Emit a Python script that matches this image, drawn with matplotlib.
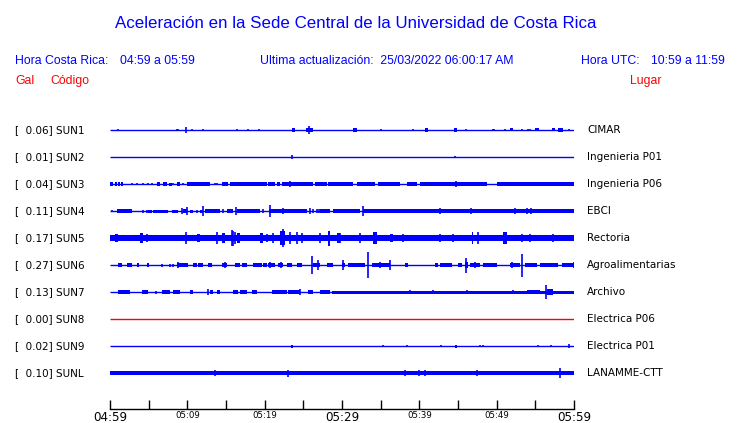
import matplotlib
matplotlib.use("Agg")
from matplotlib import pyplot as plt
from matplotlib import transforms

BLUE = "#0000ff"
RED = "#ff0000"

stations = ["SUN1", "SUN2", "SUN3", "SUN4", "SUN5", "SUN6", "SUN7", "SUN8", "SUN9", "SUNL"]
places = ["CIMAR", "Ingenieria P01", "Ingenieria P06", "EBCI", "Rectoria",
          "Agroalimentarias", "Archivo", "Electrica P06", "Electrica P01", "LANAMME-CTT"]
peak_gal = [0.06, 0.01, 0.04, 0.11, 0.17, 0.27, 0.13, 0.00, 0.02, 0.10]

# minutes after 04:59
tick_minutes = [0, 5, 10, 15, 20, 25, 30, 35, 40, 45, 50, 55, 60]
tick_labels = ["04:59", "", "05:09", "", "05:19", "", "05:29", "", "05:39", "", "05:49", "", "05:59"]
big_ticks = ["04:59", "05:29", "05:59"]

# continuous background level of each trace (relative amplitude)
noise_level = [0.5, 0.5, 0.5, 0.6, 2.6, 0.6, 0.7, 0.5, 0.5, 1.8]

# bursts: (start min, end min, amplitude)
sun1_bands = [(23.5, 23.9, 1.5), (25.4, 26.3, 2.0), (31.4, 31.9, 1.8), (40.7, 41.1, 1.5),
              (44.5, 44.9, 1.5), (51.7, 52.1, 1.3), (54.9, 55.5, 1.3), (57.2, 57.5, 1.3),
              (57.9, 58.6, 1.5)]
sun2_bands = []
sun3_bands = [(0.0, 0.4, 1.5), (0.6, 0.9, 1.5), (1.0, 1.3, 1.5), (1.4, 1.7, 1.5), (6.1, 6.5, 1.5),
              (6.9, 7.4, 1.5), (7.6, 8.0, 1.3), (8.7, 9.1, 1.5), (10.0, 12.9, 1.7), (14.5, 15.3, 1.7),
              (15.5, 20.3, 1.8), (20.4, 21.3, 1.8), (21.6, 22.0, 1.8), (22.2, 26.3, 1.8),
              (26.5, 28.1, 1.8), (28.2, 31.4, 1.8), (31.9, 34.3, 1.8), (34.7, 37.5, 1.8),
              (38.4, 39.7, 1.8), (40.1, 48.8, 1.8), (50.0, 60.0, 1.8)]
sun4_bands = [(0.9, 2.8, 1.5), (4.9, 5.4, 1.3), (5.6, 7.5, 1.3), (8.0, 8.8, 1.3), (9.4, 10.0, 1.5),
              (10.3, 10.7, 1.3), (11.6, 12.0, 1.3), (12.3, 14.2, 1.5), (15.1, 15.9, 1.5),
              (16.4, 19.4, 1.6), (20.5, 20.9, 1.6), (20.9, 25.5, 1.6), (27.2, 28.4, 1.5),
              (28.8, 31.0, 1.6), (31.0, 32.3, 1.6), (32.7, 42.7, 1.6), (42.7, 60.0, 1.6)]
sun5_bands = [(0.6, 1.0, 3.5), (3.9, 4.3, 4.0), (11.2, 11.6, 3.5), (14.5, 14.9, 4.0), (16.4, 16.8, 4.0),
              (19.4, 19.8, 4.0), (22.0, 22.6, 6.0), (28.2, 28.4, 6.5), (29.4, 29.7, 4.0),
              (34.0, 34.5, 5.0), (36.2, 36.6, 3.5), (46.8, 46.9, 5.0), (50.8, 51.3, 5.5)]
sun6_bands = [(1.0, 1.6, 1.5), (2.2, 2.8, 1.5), (3.5, 3.8, 1.5), (4.8, 5.0, 1.5), (8.7, 10.1, 1.6),
              (10.7, 11.2, 1.5), (11.4, 12.0, 1.5), (12.7, 13.2, 1.5), (14.5, 15.1, 1.6),
              (16.2, 16.8, 1.5), (17.1, 17.7, 1.5), (18.5, 19.7, 1.6), (19.8, 20.3, 1.5),
              (20.4, 21.3, 1.7), (21.7, 22.4, 1.7), (22.9, 23.5, 1.5), (24.2, 24.8, 1.5),
              (26.3, 27.2, 1.8), (28.1, 28.8, 1.5), (30.0, 30.4, 1.5), (30.8, 33.0, 1.4),
              (33.9, 36.2, 1.6), (38.1, 38.5, 1.8), (42.0, 42.4, 1.8), (42.7, 44.2, 1.5),
              (45.0, 45.5, 1.5), (45.9, 46.3, 2.5), (46.6, 47.8, 1.8), (48.2, 50.0, 1.5),
              (51.7, 53.0, 1.7), (53.7, 55.2, 1.5), (55.6, 57.9, 1.5), (58.5, 60.0, 1.5)]
sun7_bands = [(1.0, 2.6, 1.5), (1.5, 2.2, 2.0), (4.1, 4.9, 1.5), (6.7, 7.8, 1.5), (8.1, 9.1, 1.5),
              (10.3, 10.7, 1.4), (12.9, 13.3, 1.4), (13.8, 14.2, 1.4), (15.9, 16.6, 1.5),
              (16.8, 17.7, 1.5), (18.4, 19.0, 1.5), (20.9, 22.9, 1.5), (23.0, 24.6, 1.5),
              (25.6, 26.3, 1.5), (27.2, 28.4, 1.5), (28.7, 60.0, 1.3), (53.9, 55.6, 2.0),
              (56.5, 57.3, 2.5)]
sun8_bands = []
sun9_bands = [(23.4, 23.6, 1.3), (44.6, 44.9, 1.3)]
sunl_bands = []

# single spikes: (minute, amplitude)
sun1_spikes = [(1.0, 1.0), (8.6, 1.0), (8.8, 1.0), (9.8, 2.5), (10.6, 1.0), (12.0, 0.8), (16.4, 1.0),
               (17.8, 1.0), (19.3, 1.0), (25.7, 3.5), (35.0, 1.0), (39.2, 0.8), (46.0, 1.2),
               (49.5, 1.0), (49.7, 1.0), (51.1, 1.0), (53.3, 1.0), (54.1, 1.0), (54.3, 1.0),
               (57.3, 1.3), (59.4, 1.0)]
sun2_spikes = [(23.5, 1.5), (44.6, 1.2)]
sun3_spikes = [(2.8, 1.2), (3.5, 1.2), (4.3, 1.2), (4.9, 1.2), (5.4, 1.2), (8.1, 1.2), (9.4, 1.2),
               (13.6, 1.2), (13.8, 1.2), (23.3, 2.5), (44.7, 2.8), (60.0, 2.0)]
sun4_spikes = [(0.3, 1.0), (4.3, 1.3), (4.8, 1.3), (9.3, 3.0), (10.0, 3.5), (11.2, 1.3), (12.0, 4.0),
               (14.6, 2.0), (16.3, 3.5), (19.8, 2.0), (20.7, 5.0), (22.4, 2.5), (23.0, 2.0),
               (25.9, 2.5), (26.3, 2.0), (26.8, 2.0), (27.0, 2.0), (32.7, 4.0), (34.0, 2.0),
               (35.3, 2.0), (36.2, 2.0), (37.2, 2.0), (42.7, 2.5), (46.7, 3.0), (48.1, 1.8),
               (52.4, 2.5), (53.9, 2.5), (54.4, 2.5), (58.5, 2.0), (59.7, 2.0)]
sun5_spikes = [(4.8, 3.5), (9.8, 5.0), (13.8, 5.0), (15.8, 7.0), (15.9, 6.5), (16.2, 5.0),
               (20.3, 3.5), (21.1, 4.0), (22.4, 8.0), (23.3, 5.0), (24.2, 5.0), (24.8, 4.0),
               (27.2, 4.0), (29.7, 4.0), (32.3, 4.0), (37.9, 3.5), (42.7, 3.5), (44.4, 3.5),
               (47.6, 5.0), (53.3, 3.5), (54.3, 3.5), (57.3, 3.5)]
sun6_spikes = [(6.7, 1.3), (7.8, 1.3), (8.1, 1.3), (8.8, 3.0), (14.9, 3.0), (20.7, 3.0), (22.1, 3.0),
               (26.1, 8.0), (26.9, 4.0), (30.1, 4.0), (33.4, 11.5), (34.9, 3.0), (36.2, 4.0),
               (46.0, 6.5), (47.2, 3.0), (52.0, 3.0), (53.3, 10.0), (60.0, 3.0)]
sun7_spikes = [(6.0, 1.3), (12.7, 2.5), (24.6, 2.5), (38.8, 2.0), (41.8, 2.0), (46.2, 2.0),
               (52.1, 2.0), (56.4, 6.0)]
sun8_spikes = []
sun9_spikes = [(35.3, 1.0), (38.4, 1.0), (42.8, 1.0), (47.8, 1.0), (48.2, 1.0), (55.3, 1.0),
               (57.0, 1.0), (59.4, 1.5)]
sunl_spikes = [(13.6, 2.5), (23.0, 3.0), (38.1, 2.5), (40.0, 2.5), (40.7, 2.5), (44.9, 2.0),
               (45.8, 2.0), (47.5, 2.5), (57.2, 2.0), (58.2, 4.5)]

bands = [sun1_bands, sun2_bands, sun3_bands, sun4_bands, sun5_bands,
         sun6_bands, sun7_bands, sun8_bands, sun9_bands, sunl_bands]
spikes = [sun1_spikes, sun2_spikes, sun3_spikes, sun4_spikes, sun5_spikes,
          sun6_spikes, sun7_spikes, sun8_spikes, sun9_spikes, sunl_spikes]

W, H = 740, 423
fig = plt.figure(figsize=(W / 100, H / 100), dpi=100)
fig.patch.set_facecolor("white")


def fx(px):
    return px / W


def fy(py):
    return 1 - py / H


# trace area: 04:59 -> 05:59, axis line at the bottom
ax = fig.add_axes([fx(110), fy(409), fx(574) - fx(110), fy(110) - fy(409)])
ax.set_xlim(0, 60)
ax.set_ylim(10.33, -0.74)
scale = 1.15 / 27  # one unit of amplitude in row units

for i, st in enumerate(stations):
    color = RED if peak_gal[i] == 0 else BLUE
    h = noise_level[i] * scale
    ax.hlines(i, 0, 60, color=color, lw=1.0)
    if noise_level[i] > 1:
        ax.fill_between([0, 60], i - h, i + h, color=color, lw=0)
    for t0, t1, a in bands[i]:
        ax.fill_between([t0, t1], i - a * scale, i + a * scale, color=color, lw=0)
    if spikes[i]:
        ts = [s[0] for s in spikes[i]]
        amps = [s[1] * scale for s in spikes[i]]
        ax.vlines(ts, [i - a for a in amps], [i + a for a in amps], color=color, lw=1.2)

for s in ["top", "left", "right"]:
    ax.spines[s].set_visible(False)
ax.spines["bottom"].set_linewidth(1.0)
ax.set_yticks([])
ax.set_xticks(tick_minutes)
ax.set_xticklabels(tick_labels)
ax.tick_params(axis="x", direction="in", length=6.5, width=1.0, pad=1.5)
for lab in ax.get_xticklabels():
    if lab.get_text() in big_ticks:
        lab.set_fontsize(8.6)
    else:
        lab.set_fontsize(6.2)
    lab.set_verticalalignment("top")

# station labels tied to the rows
tr = transforms.blended_transform_factory(fig.transFigure, ax.transData)
for i, st in enumerate(stations):
    ax.text(fx(15), i, f"[  {peak_gal[i]:.2f}] {st}", transform=tr, ha="left", va="center",
            fontsize=7.5, family="DejaVu Sans", clip_on=False)
    ax.text(fx(587), i, places[i], transform=tr, ha="left", va="center",
            fontsize=7.5, family="DejaVu Sans", clip_on=False)

# header
hf = "Liberation Sans"
fig.text(fx(356), fy(23), "Aceleración en la Sede Central de la Universidad de Costa Rica",
         ha="center", va="center", color=BLUE, fontsize=12.2, family=hf)
fig.text(fx(15), fy(61), "Hora Costa Rica:", ha="left", va="center", color=BLUE, fontsize=8.8, family=hf)
fig.text(fx(120), fy(61), "04:59 a 05:59", ha="left", va="center", color=BLUE, fontsize=8.8, family=hf)
fig.text(fx(260), fy(61), "Ultima actualización:  25/03/2022 06:00:17 AM", ha="left", va="center",
         color=BLUE, fontsize=8.8, family=hf)
fig.text(fx(581), fy(61), "Hora UTC:", ha="left", va="center", color=BLUE, fontsize=8.8, family=hf)
fig.text(fx(651), fy(61), "10:59 a 11:59", ha="left", va="center", color=BLUE, fontsize=8.8, family=hf)
fig.text(fx(15), fy(81), "Gal", ha="left", va="center", color=RED, fontsize=8.8, family=hf)
fig.text(fx(50), fy(81), "Código", ha="left", va="center", color=RED, fontsize=8.8, family=hf)
fig.text(fx(630), fy(81), "Lugar", ha="left", va="center", color=RED, fontsize=8.8, family=hf)

fig.savefig("out.png", dpi=100)
